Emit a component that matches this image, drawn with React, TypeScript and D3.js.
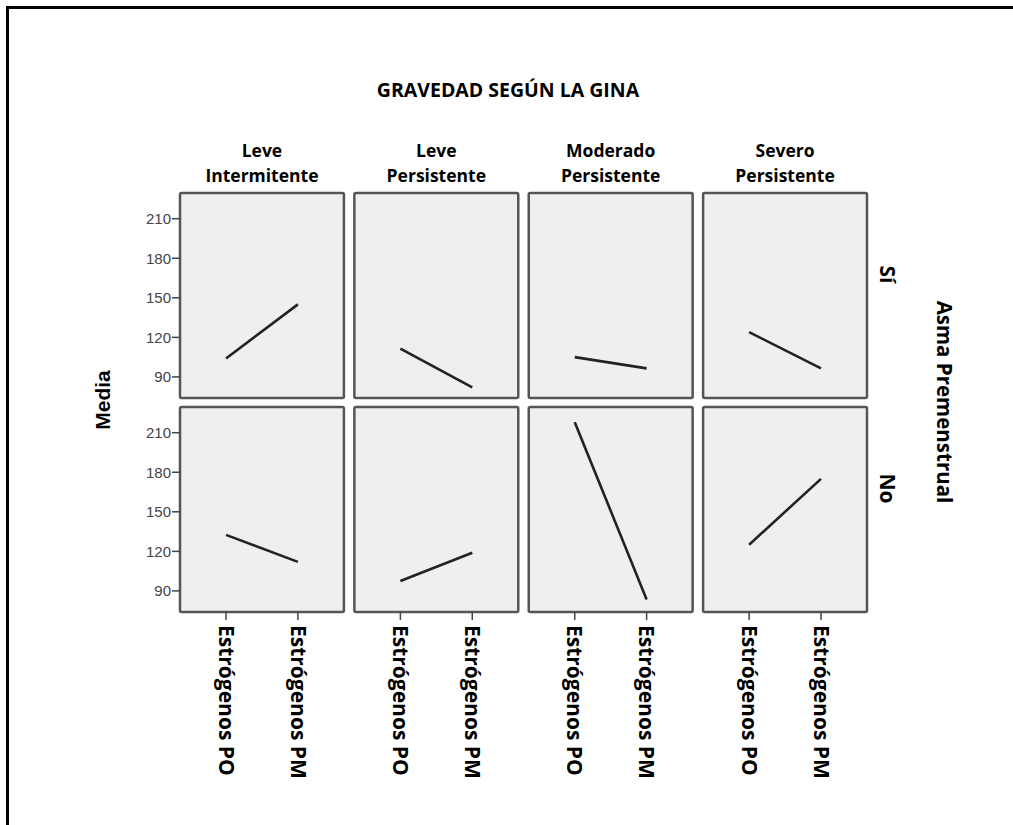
import React from "react";
import * as d3 from "d3";

// columns: severity per GINA (two header lines each)
const severityTop = ["Leve", "Leve", "Moderado", "Severo"];
const severityBottom = ["Intermitente", "Persistente", "Persistente", "Persistente"];
// rows: premenstrual asthma
const asma = ["Sí", "No"];
const estrogenos = ["Estrógenos PO", "Estrógenos PM"];
// means per panel [PO, PM]
const mediaSi = [
    [104, 145],
    [111.5, 82],
    [105, 96.5],
    [124, 96.5],
];
const mediaNo = [
    [132.5, 112],
    [97.5, 119],
    [218, 83.5],
    [125, 175],
];
const yTicks = [90, 120, 150, 180, 210];

const width = 1013;
const height = 825;
const openSans = "'Open Sans', 'DejaVu Sans', sans-serif";
const arial = "'Liberation Sans', Arial, sans-serif";

export default function App() {
    const cols = d3.range(severityTop.length);
    const x = d3.scaleBand<number>().domain(cols).range([180, 867]).paddingInner(0.06);
    const row = d3.scaleBand<string>().domain(asma).range([193, 612]).paddingInner(0.042);
    const px = d3.scalePoint<string>().domain(estrogenos).range([0, x.bandwidth()]).padding(0.64);
    const y = d3.scaleLinear().domain([74, 229.5]).range([row.bandwidth(), 0]);
    const line = d3
        .line<number>()
        .x((_, i) => px(estrogenos[i]) as number)
        .y((d) => y(d));
    const data: Record<string, number[][]> = { Sí: mediaSi, No: mediaNo };
    const rowBottom = (row(asma[asma.length - 1]) as number) + row.bandwidth();

    return (
        <div style={{ position: "absolute", left: 0, top: 0 }}>
            <svg width={width} height={height} style={{ display: "block", background: "#fff" }}>
                {/* outer frame: only top and left edges show */}
                <path d={`M7.5,${height} V7.5 H${width}`} fill="none" stroke="#000" strokeWidth={3} />

                <text x={508} y={97} textAnchor="middle" fontFamily={openSans} fontWeight={700} fontSize={19.5}>
                    GRAVEDAD SEGÚN LA GINA
                </text>

                {cols.map((c) => (
                    <text
                        key={"h" + c}
                        textAnchor="middle"
                        fontFamily={openSans}
                        fontWeight={700}
                        fontSize={17.5}
                    >
                        <tspan x={(x(c) as number) + x.bandwidth() / 2} y={157}>
                            {severityTop[c]}
                        </tspan>
                        <tspan x={(x(c) as number) + x.bandwidth() / 2} y={182}>
                            {severityBottom[c]}
                        </tspan>
                    </text>
                ))}

                {asma.map((r) => (
                    <g key={r} transform={`translate(0,${row(r)})`}>
                        {cols.map((c) => (
                            <g key={c} transform={`translate(${x(c)},0)`}>
                                <rect
                                    width={x.bandwidth()}
                                    height={row.bandwidth()}
                                    fill="#efefef"
                                    stroke="#555"
                                    strokeWidth={2.5}
                                    rx={1.5}
                                />
                                <path d={line(data[r][c]) ?? ""} fill="none" stroke="#222" strokeWidth={2.6} />
                            </g>
                        ))}
                        {/* y axis on first column */}
                        <g transform={`translate(${x(0)},0)`}>
                            {yTicks.map((t) => (
                                <g key={t} transform={`translate(0,${y(t)})`}>
                                    <line x1={-8} x2={0} stroke="#444" strokeWidth={1.5} />
                                    <text
                                        x={-9}
                                        dy="0.35em"
                                        textAnchor="end"
                                        fontFamily={arial}
                                        fontSize={15}
                                        fill="#444"
                                    >
                                        {t}
                                    </text>
                                </g>
                            ))}
                        </g>
                        {/* row label, a little above the panel centre as in the source */}
                        <text
                            transform={`translate(880,${row.bandwidth() / 2 - 21}) rotate(90)`}
                            textAnchor="middle"
                            fontFamily={openSans}
                            fontWeight={700}
                            fontSize={21}
                        >
                            {r}
                        </text>
                    </g>
                ))}

                {/* x axis ticks and rotated labels under bottom row */}
                {cols.map((c) =>
                    estrogenos.map((e) => {
                        const cx = (x(c) as number) + (px(e) as number);
                        return (
                            <g key={c + e} transform={`translate(${cx},${rowBottom})`}>
                                <line y1={0} y2={8} stroke="#444" strokeWidth={1.5} />
                                <text
                                    transform="translate(0,13) rotate(90)"
                                    dy="0.35em"
                                    fontFamily={openSans}
                                    fontWeight={700}
                                    fontSize={21}
                                >
                                    {e}
                                </text>
                            </g>
                        );
                    })
                )}

                <text
                    transform="translate(103,400) rotate(-90)"
                    textAnchor="middle"
                    dy="0.35em"
                    fontFamily={arial}
                    fontWeight={700}
                    fontSize={21}
                >
                    Media
                </text>
                <text
                    transform="translate(937,402) rotate(90)"
                    textAnchor="middle"
                    fontFamily={openSans}
                    fontWeight={700}
                    fontSize={20.5}
                >
                    Asma Premenstrual
                </text>
            </svg>
        </div>
    );
}
